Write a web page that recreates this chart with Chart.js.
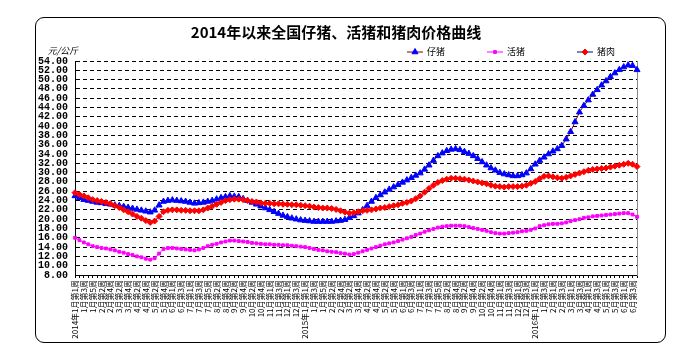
<!DOCTYPE html>
<html>
<head>
<meta charset="utf-8">
<script src="https://cdn.jsdelivr.net/npm/chart.js@4"></script>
<style>
  html, body { margin: 0; padding: 0; background: #fff; }
  #wrap { position: relative; width: 673px; height: 354px; }
  #frame { position: absolute; left: 35px; top: 17px; width: 631px; height: 326px;
           border: 1px solid #000; border-radius: 9px; box-sizing: border-box; }
  canvas { position: absolute; left: 0; top: 0; }
</style>
</head>
<body>
<div id="wrap">
  <div id="frame"></div>
  <canvas id="chart" width="673" height="354"></canvas>
</div>
<script>
// Weekly national prices of piglets, live hogs and pork since 2014 (元/公斤).
// Values, one per week.

const TITLE = "2014年以来全国仔猪、活猪和猪肉价格曲线";
const UNIT = "元/公斤";

// weeks counted in each month, per year (drives the category labels)
const YEARS = [2014, 2015, 2016];
const WEEKS_PER_MONTH = [
  [5, 4, 4, 4, 5, 4, 5, 4, 4, 5, 4, 4],
  [5, 4, 4, 4, 5, 4, 5, 4, 4, 5, 4, 4],
  [4, 4, 4, 4, 4, 4],
];

const SERIES_NAMES = ["仔猪", "活猪", "猪肉"];

const piglet = [
  25.0, 24.6, 24.2, 24.0, 23.8, 23.6, 23.5, 23.3, 23.2, 23.0,
  22.9, 22.7, 22.5, 22.3, 22.1, 21.9, 21.7, 21.5, 21.9, 23.0,
  23.8, 24.0, 24.1, 24.0, 23.9, 23.8, 23.6, 23.4, 23.5, 23.6,
  23.8, 24.0, 24.3, 24.6, 24.8, 25.0, 24.9, 24.8, 24.4, 24.0,
  23.6, 23.2, 22.8, 22.4, 22.0, 21.6, 21.2, 20.8, 20.5, 20.2,
  20.0, 19.8, 19.7, 19.6, 19.5, 19.5, 19.5, 19.5, 19.5, 19.6,
  19.7, 19.9, 20.3, 20.7, 21.3, 22.0, 22.9, 23.8, 24.6, 25.2,
  25.8, 26.4, 26.9, 27.4, 27.9, 28.4, 28.9, 29.4, 29.9, 30.7,
  31.6, 32.6, 33.6, 34.2, 34.7, 35.0, 35.1, 34.9, 34.5, 34.1,
  33.6, 33.0, 32.3, 31.6, 31.0, 30.5, 30.0, 29.7, 29.5, 29.3,
  29.3, 29.5, 29.9, 30.8, 31.8, 32.6, 33.3, 34.0, 34.6, 35.1,
  35.8, 37.2, 38.8, 40.9, 43.0, 44.4, 45.6, 46.8, 47.8, 48.8,
  49.7, 50.6, 51.4, 52.1, 52.7, 53.1, 53.0, 52.1,
];

const liveHog = [
  16.0, 15.5, 15.0, 14.6, 14.2, 14.0, 13.8, 13.7, 13.5, 13.3,
  13.0, 12.8, 12.5, 12.3, 12.0, 11.8, 11.5, 11.3, 11.6, 12.6,
  13.6, 13.8, 13.8, 13.7, 13.6, 13.5, 13.4, 13.3, 13.5, 13.8,
  14.2, 14.5, 14.7, 15.0, 15.2, 15.4, 15.4, 15.3, 15.2, 15.1,
  14.9, 14.8, 14.7, 14.6, 14.6, 14.5, 14.5, 14.4, 14.4, 14.3,
  14.2, 14.1, 14.0, 13.8, 13.6, 13.4, 13.3, 13.1, 13.0, 12.9,
  12.7, 12.6, 12.4, 12.5, 12.8, 13.1, 13.4, 13.7, 14.0, 14.3,
  14.6, 14.8, 15.0, 15.3, 15.6, 15.9, 16.2, 16.6, 16.9, 17.3,
  17.6, 17.9, 18.2, 18.4, 18.5, 18.6, 18.6, 18.6, 18.5, 18.3,
  18.1, 17.9, 17.7, 17.5, 17.2, 17.0, 16.9, 16.9, 17.0, 17.1,
  17.2, 17.4, 17.5, 17.7, 18.0, 18.5, 18.7, 18.9, 19.0, 19.0,
  19.1, 19.3, 19.6, 19.8, 20.0, 20.3, 20.4, 20.6, 20.7, 20.8,
  20.9, 21.0, 21.1, 21.2, 21.3, 21.3, 21.0, 20.5,
];

const pork = [
  25.7, 25.3, 25.0, 24.6, 24.2, 24.0, 23.8, 23.6, 23.3, 22.9,
  22.5, 22.0, 21.6, 21.1, 20.6, 20.2, 19.7, 19.3, 19.6, 20.6,
  21.6, 21.9, 22.0, 22.0, 21.9, 21.9, 21.8, 21.8, 21.8, 22.0,
  22.4, 22.8, 23.2, 23.6, 24.0, 24.2, 24.3, 24.3, 24.2, 24.0,
  23.8, 23.7, 23.5, 23.4, 23.4, 23.3, 23.3, 23.2, 23.2, 23.1,
  23.1, 23.0, 22.9, 22.8, 22.6, 22.5, 22.4, 22.4, 22.3, 22.1,
  21.8, 21.5, 21.3, 21.4, 21.6, 21.8, 21.9, 22.0, 22.2, 22.4,
  22.5, 22.7, 22.9, 23.1, 23.4, 23.6, 23.9, 24.4, 25.0, 25.8,
  26.6, 27.3, 27.9, 28.3, 28.6, 28.8, 28.8, 28.7, 28.6, 28.4,
  28.2, 28.0, 27.8, 27.6, 27.3, 27.1, 27.0, 26.9, 27.0, 27.0,
  27.0, 27.1, 27.3, 27.7, 28.1, 28.7, 29.2, 29.3, 29.1, 28.9,
  28.8, 29.0, 29.3, 29.6, 29.9, 30.2, 30.5, 30.7, 30.8, 30.9,
  31.0, 31.2, 31.4, 31.6, 31.8, 32.0, 31.8, 31.3,
];

// ── Category labels: "2014年1月第1周", "1月第2周", ... ──────────────

const weekLabels = [];
YEARS.forEach((year, yi) => {
  WEEKS_PER_MONTH[yi].forEach((count, mi) => {
    for (let w = 1; w <= count; w++) {
      const prefix = mi === 0 && w === 1 ? `${year}年` : "";
      weekLabels.push(`${prefix}${mi + 1}月第${w}周`);
    }
  });
});

const CJK = '"Noto Sans CJK SC", "Noto Sans", sans-serif';

// ── Unit label + legend (line with marker in the middle) ──────────

const LEGEND_OFFSETS = [230, 150, 60]; // distance of each item from the plot's right edge

const extras = {
  id: "extras",
  afterDraw(chart) {
    const { ctx, chartArea } = chart;
    ctx.save();
    ctx.fillStyle = "#000";
    ctx.font = `italic 9px ${CJK}`;
    ctx.textAlign = "center";
    ctx.textBaseline = "middle";
    ctx.fillText(UNIT, chartArea.left - 12, chartArea.top - 10);

    const y = chartArea.top - 9;
    ctx.font = `9px ${CJK}`;
    ctx.textAlign = "left";
    chart.data.datasets.forEach((ds, i) => {
      const x = chartArea.right - LEGEND_OFFSETS[i];
      ctx.strokeStyle = ds.borderColor;
      ctx.lineWidth = 1;
      ctx.beginPath();
      ctx.moveTo(x, y);
      ctx.lineTo(x + 16, y);
      ctx.stroke();
      ctx.fillStyle = ds.pointBackgroundColor;
      ctx.strokeStyle = ds.pointBorderColor;
      Chart.helpers.drawPoint(ctx, {
        pointStyle: ds.pointStyle, rotation: 0,
        radius: ds.pointRadius, borderWidth: 1,
      }, x + 8, y);
      ctx.fillStyle = "#000";
      ctx.fillText(ds.label, x + 20, y);
    });
    ctx.restore();
  },
};

new Chart(document.getElementById("chart"), {
  type: "line",
  data: {
    labels: weekLabels,
    datasets: [
      {
        label: SERIES_NAMES[0], data: piglet, order: 3,
        borderColor: "#800000", borderWidth: 1,
        pointStyle: "triangle", pointRadius: 3.5, pointBorderWidth: 1,
        pointBackgroundColor: "#0000ff", pointBorderColor: "#0000ff",
      },
      {
        label: SERIES_NAMES[1], data: liveHog, order: 2,
        borderColor: "#ff00ff", borderWidth: 1,
        pointStyle: "rect", pointRadius: 2, pointBorderWidth: 1,
        pointBackgroundColor: "#ff00ff", pointBorderColor: "#ff00ff",
      },
      {
        label: SERIES_NAMES[2], data: pork, order: 1,
        borderColor: "#000080", borderWidth: 1,
        pointStyle: "rectRot", pointRadius: 3, pointBorderWidth: 1,
        pointBackgroundColor: "#ff0000", pointBorderColor: "#ff0000",
      },
    ],
  },
  options: {
    responsive: false,
    animation: false,
    layout: { padding: { left: 35, right: 36, top: 17, bottom: 11 } },
    plugins: {
      legend: { display: false },
      tooltip: { enabled: false },
      title: {
        display: true, text: TITLE, color: "#000",
        font: { family: CJK, size: 15, weight: "bold" },
        padding: { top: 6, bottom: 20 },
      },
    },
    scales: {
      x: {
        grid: { display: true, drawOnChartArea: false, drawTicks: true, tickLength: 3, color: "#000" },
        border: { color: "#000", width: 1 },
        ticks: {
          autoSkip: false, minRotation: 90, maxRotation: 90, padding: 2,
          color: "#000", font: { family: CJK, size: 8 },
          callback: function (val, idx) { return idx % 2 === 0 ? this.getLabelForValue(val) : ""; },
        },
        afterFit: (s) => { s.height = 68; },
      },
      y: {
        min: 8, max: 54,
        grid: { color: "#000", lineWidth: 1, drawTicks: false },
        border: { color: "#000", width: 1, dash: [4, 3] },
        ticks: {
          stepSize: 2, autoSkip: false, padding: 7, color: "#000",
          font: { family: '"Liberation Mono", monospace', size: 10, weight: "bold" },
          callback: (v) => v.toFixed(2),
        },
        afterFit: (s) => { s.width = 40; },
      },
      y2: {
        position: "right", min: 8, max: 54,
        grid: { display: false, drawTicks: false },
        border: { color: "#888", width: 1 },
        ticks: { display: false },
        afterFit: (s) => { s.width = 0; },
      },
    },
  },
  plugins: [extras],
});
</script>
</body>
</html>
